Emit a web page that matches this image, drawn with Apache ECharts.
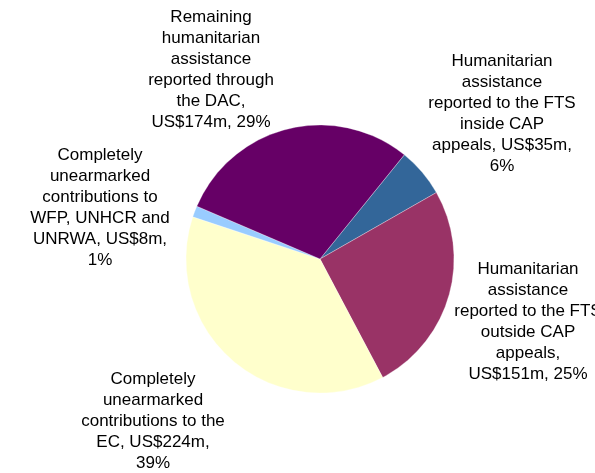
<!DOCTYPE html>
<html>
<head>
<meta charset="utf-8">
<script src="https://cdn.jsdelivr.net/npm/echarts@6/dist/echarts.min.js"></script>
<style>html,body{margin:0;padding:0;background:#fff}#c{width:595px;height:473px}</style>
</head>
<body>
<div id="c"></div>
<script>
var categories = [
  "Humanitarian\nassistance\nreported to the FTS\ninside CAP\nappeals, US$35m,\n6%",
  "Humanitarian\nassistance\nreported to the FTS\noutside CAP\nappeals,\nUS$151m, 25%",
  "Completely\nunearmarked\ncontributions to the\nEC, US$224m,\n39%",
  "Completely\nunearmarked\ncontributions to\nWFP, UNHCR and\nUNRWA, US$8m,\n1%",
  "Remaining\nhumanitarian\nassistance\nreported through\nthe DAC,\nUS$174m, 29%"
];
var values = [35, 151, 224, 8, 174];
var colors = ["#336699", "#993366", "#FFFFCC", "#99CCFF", "#660066"];

var labelPos = [[502, 114], [528, 322], [153, 421], [100, 208], [211, 70]];

var chart = echarts.init(document.getElementById('c'));
chart.setOption({
  animation: false,
  series: [{
    type: 'pie',
    center: [320, 259],
    radius: 134,
    startAngle: 51,
    clockwise: true,
    avoidLabelOverlap: false,
    data: values.map(function (v, i) {
      return { value: v, name: categories[i], itemStyle: { color: colors[i] } };
    }),
    itemStyle: { borderColor: 'rgba(255,255,255,0.6)', borderWidth: 0.5 },
    label: {
      show: true,
      position: 'outside',
      formatter: '{b}',
      color: '#000',
      fontSize: 17,
      lineHeight: 21,
      fontFamily: 'Liberation Sans, Arial, sans-serif',
      align: 'center',
      overflow: 'none',
      width: 400
    },
    labelLine: { show: false },
    labelLayout: function (p) {
      var pos = labelPos[p.dataIndex];
      return { x: pos[0], y: pos[1], align: 'center', verticalAlign: 'middle' };
    },
    emphasis: { disabled: true }
  }]
});
</script>
</body>
</html>
